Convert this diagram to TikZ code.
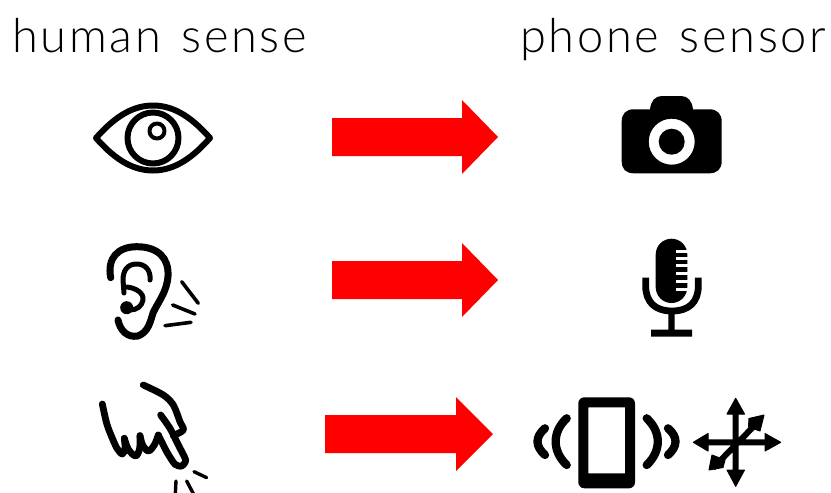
\documentclass[tikz,border=0pt]{standalone}
\usepackage{fontspec}
\setmainfont{Lato Light}[LetterSpace=5.8,WordSpace=1.3]
\begin{document}
\begin{tikzpicture}[x=1pt,y=-1pt,line cap=round,line join=round,
  title/.style={font=\fontsize{47}{52}\selectfont,inner sep=0pt,anchor=base west},
  redarrow/.style={fill=red,draw=none},
  ink/.style={draw=black,fill=none},
  solid ink/.style={fill=black,draw=none}]
\useasboundingbox (0,0) rectangle (831,493);
\fill[white] (0,0) rectangle (831,493);
\node[title] (humanlabel) at (12,52.7) {human sense};
\node[title] (phonelabel) at (520,52.7) {phone sensor};
% arrows
\foreach \n/\xa/\xb/\xc/\yc in {a/332/462/498/137,b/332/462/498/280,c/325/456/493/434}{
  \fill[redarrow] (\xa,\yc-19) -- (\xb,\yc-19) -- (\xb,\yc-37) -- (\xc,\yc) -- (\xb,\yc+37) -- (\xb,\yc+19) -- (\xa,\yc+19) -- cycle;
}
% eye
\draw[ink,line width=6pt] (96,138) .. controls (112,120) and (130,105.5) .. (153,105.5) .. controls (176,105.5) and (194,120) .. (210,138) .. controls (194,156) and (176,170.5) .. (153,170.5) .. controls (130,170.5) and (112,156) .. (96,138) -- cycle;
\draw[ink,line width=6pt] (153,138) circle (25.5);
\draw[ink,line width=4pt] (157,131) circle (7.5);
% ear
\draw[ink,line width=7pt] (110.7,277.7) .. controls (107,258) and (118,246.7) .. (136.7,246.7) .. controls (158,246.7) and (169,258) .. (168,276) .. controls (167,292) and (158,302) .. (153,313) .. controls (150,323) and (148,332) .. (138,336) .. controls (127,338) and (120,330) .. (118,320);
\draw[ink,line width=5pt] (150,280) .. controls (151,270) and (145,264) .. (136.7,264) .. controls (127,264) and (123,271) .. (123,280) -- (124,293);
\draw[ink,line width=5pt] (127,287) .. controls (136,288) and (144,293) .. (143,300) .. controls (142,306) and (137,310) .. (130,310);
\fill[solid ink] (126.7,307.7) circle (6.5);
\draw[ink,line width=3.6pt] (181.7,281.7) -- (198.3,303.3);
\draw[ink,line width=3.6pt] (172.7,305) -- (195,314);
\draw[ink,line width=3.6pt] (165,325.7) -- (191,322.3);
% hand
\begin{scope}[shift={(95,380)},x=0.3333pt,y=-0.3333pt]
\draw[ink,line width=6.8pt] plot[smooth,tension=0.55] coordinates {(22,72) (35,130) (50,170) (66,205) (82,222) (90,205) (88,175)};
\draw[ink,line width=6.8pt] plot[smooth,tension=0.55] coordinates {(88,175) (100,208) (122,228) (134,205) (135,167)};
\draw[ink,line width=6.8pt] plot[smooth,tension=0.55] coordinates {(135,167) (143,195) (160,213) (178,195) (190,165)};
\draw[ink,line width=6.8pt] plot[smooth,tension=0.4] coordinates {(190,165) (215,215) (240,253) (260,258) (272,240) (250,195) (225,145) (197,105)};
\draw[ink,line width=6.8pt] plot[smooth,tension=0.5] coordinates {(145,15) (205,45) (235,75) (255,125) (265,150) (235,167)};
\draw[ink,line width=3.4pt] (297,275) -- (335,293);
\draw[ink,line width=3.4pt] (275,303) -- (295,341);
\draw[ink,line width=3.4pt] (243,303) -- (241,341);
\end{scope}
% camera
\fill[solid ink,even odd rule] (633.7,109.3) -- (650,109.3) .. controls (651,101) and (655,96) .. (662,96) -- (681,96) .. controls (688,96) and (692,101) .. (693,109.3) -- (709.7,109.3) .. controls (717,109.3) and (721.7,114) .. (721.7,121.3) -- (721.7,161.3) .. controls (721.7,169) and (717,173.3) .. (709.7,173.3) -- (633.7,173.3) .. controls (626,173.3) and (621.7,169) .. (621.7,161.3) -- (621.7,121.3) .. controls (621.7,114) and (626,109.3) .. (633.7,109.3) -- cycle (671.7,141.7) circle (23) (671.7,141.7) circle (13);
% microphone
\fill[solid ink] (655.7,254.5) arc (180:360:15.8) -- (687.3,287.2) arc (0:180:15.8) -- cycle;
\foreach \y in {249.5,256.5,264,272,280,287.5}
  \fill[white] (675.7,\y) rectangle (688,\y+3.2);
\draw[ink,line width=6.8pt,line cap=butt] (645.7,277.7) -- (645.7,286) .. controls (645.7,302) and (655,311) .. (672,311) .. controls (689,311) and (698.3,302) .. (698.3,286) -- (698.3,277.7);
\fill[solid ink] (668.3,311) rectangle (674.7,332) (651,329.5) rectangle (692,336.5);
% phone
\fill[solid ink,even odd rule] (584.3,397.3) -- (629,397.3) arc (-90:0:6) -- (635,482.3) arc (0:90:6) -- (584.3,488.3) arc (90:180:6) -- (578.3,403.3) arc (180:270:6) -- cycle (588.3,407.3) rectangle (625,473.3);
\draw[ink,line width=8.3pt] (566.7,418.3) .. controls (552,432) and (552,451) .. (566.7,465);
\draw[ink,line width=8.3pt] (545,428.3) .. controls (535,437) and (535,446) .. (545,455);
\draw[ink,line width=8.3pt] (646.7,418.3) .. controls (661.5,432) and (661.5,451) .. (646.7,465);
\draw[ink,line width=8.3pt] (668,428.3) .. controls (678,437) and (678,446) .. (668,455);
% motion sensor
\draw[ink,line width=6pt,line cap=butt] (735.7,410) -- (735.7,475) (703,442.3) -- (768,442.3) (713,468) -- (758,422);
\filldraw[solid ink,draw=black,line width=1pt] (735.7,398.3) -- (744.5,414) -- (727,414) -- cycle
 (735.7,486.3) -- (744.5,470) -- (727,470) -- cycle
 (693.3,442.3) -- (708,433.5) -- (708,451) -- cycle
 (780.7,442.3) -- (765,433.5) -- (765,451) -- cycle
 (764,415) -- (749,418.5) -- (748.5,427) -- (760,431) -- cycle
 (709,470) -- (723,467.5) -- (725,460) -- (712,455) -- cycle;
\end{tikzpicture}
\end{document}
